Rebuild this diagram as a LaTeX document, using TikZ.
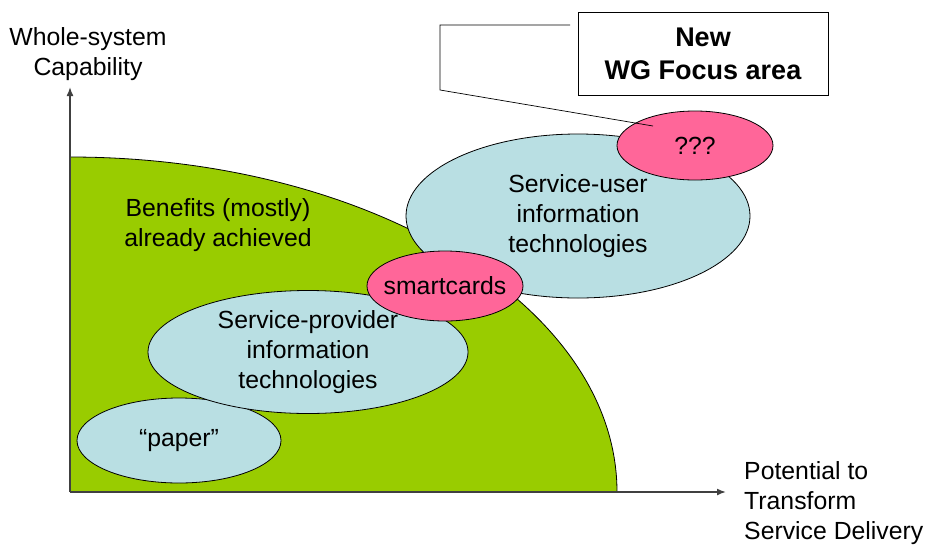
\documentclass[tikz,border=0pt]{standalone}
\usepackage{fontspec}
\setmainfont{Liberation Sans}
\usetikzlibrary{shapes.geometric,arrows.meta}
\definecolor{bggreen}{HTML}{99CC00}
\definecolor{lblue}{HTML}{B9DFE3}
\definecolor{pinkc}{HTML}{FF6699}
\definecolor{axisgray}{HTML}{404040}
\tikzset{
  txt/.style={font=\fontsize{24.8}{30}\selectfont, align=center, inner sep=0pt},
  blob/.style={ellipse, draw=black, line width=0.8pt, fill=lblue, inner sep=0pt},
  pblob/.style={blob, fill=pinkc},
  axisline/.style={draw=axisgray, line width=1.6pt, -{Latex[length=9pt,width=7pt]}},
}
\begin{document}
\begin{tikzpicture}[x=1pt,y=-1pt]
\useasboundingbox (0,0) rectangle (928,544);
% green region
\fill[bggreen] (70,492) -- (70,157) arc[start angle=90,end angle=0,x radius=547pt,y radius=335pt] -- cycle;
\draw[black, line width=0.8pt] (70,157) arc[start angle=90,end angle=0,x radius=547pt,y radius=335pt];
% axes
\coordinate (origin) at (70,492);
\coordinate (ytip) at (70,87);
\coordinate (xtip) at (726,492);
\draw[axisline] (origin) -- (ytip);
\draw[axisline] (origin) -- (xtip);
% labels
\node[txt] (ylab) at (88,54) {Whole-system\\Capability};
\node[txt, align=left, anchor=west] (xlab) at (744,503) {Potential to\\Transform\\Service Delivery};
\node[txt] (benefits) at (218,225) {Benefits (mostly)\\already achieved};
% ellipses
\node[blob, minimum width=204pt, minimum height=85pt, label={[txt]center:“paper”}] (paper) at (179,440.5) {};
\node[blob, minimum width=320pt, minimum height=123pt, label={[txt]center:Service-provider\\information\\technologies}] (provider) at (308,352) {};
\node[blob, minimum width=344pt, minimum height=164pt, label={[txt]center:Service-user\\information\\technologies}] (user) at (578,216) {};
\node[pblob, minimum width=156pt, minimum height=70pt, label={[txt]center:smartcards}] (smart) at (445,286) {};
\node[pblob, minimum width=156pt, minimum height=69pt, label={[txt]center:???}] (qqq) at (695,145.5) {};
% callout
\node[draw=black, line width=0.8pt, minimum width=250pt, minimum height=83pt, inner sep=0pt,
  font=\fontsize{27}{33}\bfseries\selectfont, align=center] (focus) at (703,53.5) {New\\WG Focus area};
\coordinate (c1) at (570,25);
\coordinate (c2) at (440,25);
\coordinate (c3) at (440,90);
\coordinate (c4) at (653,126);
\draw[black, line width=0.7pt] (c1) -- (c2) -- (c3) -- (c4);
\end{tikzpicture}
\end{document}
